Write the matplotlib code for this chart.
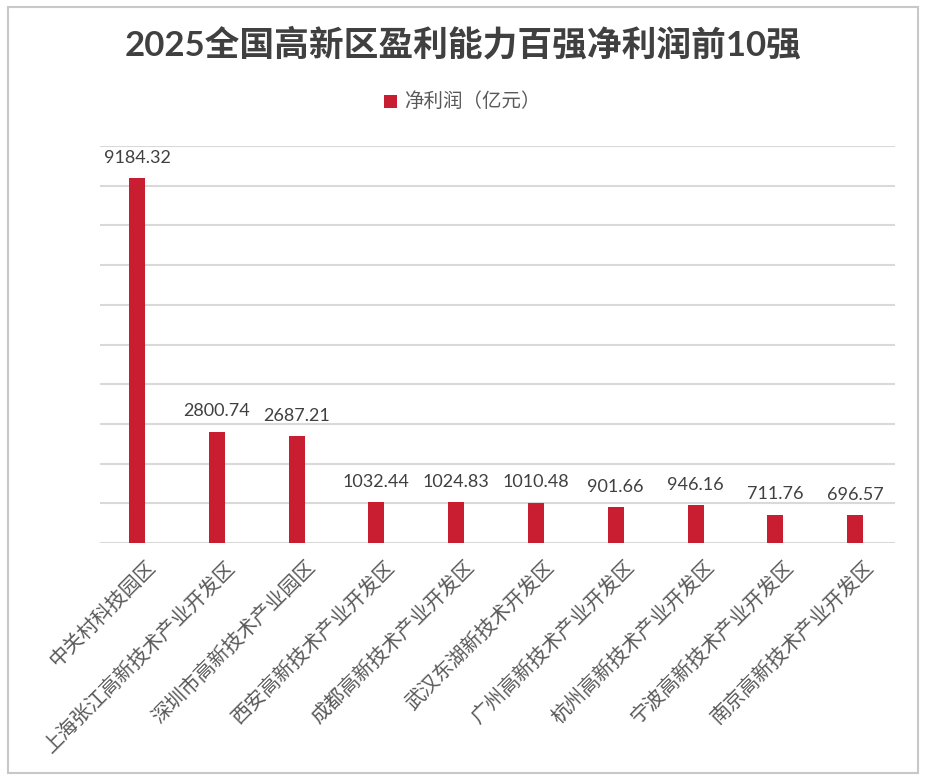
import matplotlib
matplotlib.use("Agg")
from matplotlib import pyplot as plt
from matplotlib.patches import Rectangle
from matplotlib.transforms import ScaledTranslation

# datos
parques = ["中关村科技园区", "上海张江高新技术产业开发区", "深圳市高新技术产业园区",
           "西安高新技术产业开发区", "成都高新技术产业开发区", "武汉东湖新技术开发区",
           "广州高新技术产业开发区", "杭州高新技术产业开发区", "宁波高新技术产业开发区",
           "南京高新技术产业开发区"]
beneficio = [9184.32, 2800.74, 2687.21, 1032.44, 1024.83, 1010.48, 901.66, 946.16, 711.76, 696.57]

rojo = "#C91D32"
gris_txt = "#595959"

plt.rcParams["font.family"] = ["Noto Sans CJK SC", "DejaVu Sans"]

fig = plt.figure(figsize=(9.3, 7.84), dpi=100)
W, H = 930, 784
ax = fig.add_axes([100 / W, (H - 543) / H, 795 / W, (543 - 146) / H])

x = list(range(len(parques)))
ax.bar(x, beneficio, width=0.2, color=rojo, zorder=3)
for xi, v in zip(x, beneficio):
    ax.annotate(f"{v:.2f}", (xi, v), xytext=(0, 9), textcoords="offset points",
                ha="center", va="bottom", fontsize=13, color="#404040",
                family=["Lato", "DejaVu Sans"])

ax.set_xlim(-0.464, 9.5)
ax.set_ylim(0, 10000)
ax.set_yticks(range(0, 10001, 1000))
ax.set_yticklabels([])
ax.tick_params(axis="y", length=0)
ax.grid(axis="y", color="#D9D9D9", linewidth=1.5, zorder=0)
for s in ax.spines.values():
    s.set_visible(False)

ax.set_xticks(x)
ax.set_xticklabels(parques, rotation=45, ha="right", rotation_mode="anchor",
                   fontsize=14.5, color=gris_txt)
ax.tick_params(axis="x", length=0, pad=10)
desplazo = ScaledTranslation(8 / 100, 0, fig.dpi_scale_trans)
for lab in ax.get_xticklabels():
    lab.set_transform(lab.get_transform() + desplazo)

# titulo y leyenda
fig.text(463 / W, 1 - 45 / H, "2025全国高新区盈利能力百强净利润前10强", ha="center", va="center",
         fontsize=25, fontweight="bold", color="#404040",
         family=["Lato", "Noto Sans CJK SC"])
fig.patches.append(Rectangle((384 / W, 1 - 108 / H), 13 / W, 13 / H, transform=fig.transFigure,
                             facecolor=rojo, edgecolor="none"))
fig.text(404 / W, 1 - 101 / H, "净利润（亿元）", ha="left", va="center", fontsize=14, color=gris_txt)

# marco
fig.patches.append(Rectangle((8 / W, 1 - 773 / H), 910 / W, 766 / H, transform=fig.transFigure,
                             facecolor="none", edgecolor="#C8C8C8", linewidth=1.5))

fig.savefig("out.png", dpi=100)
